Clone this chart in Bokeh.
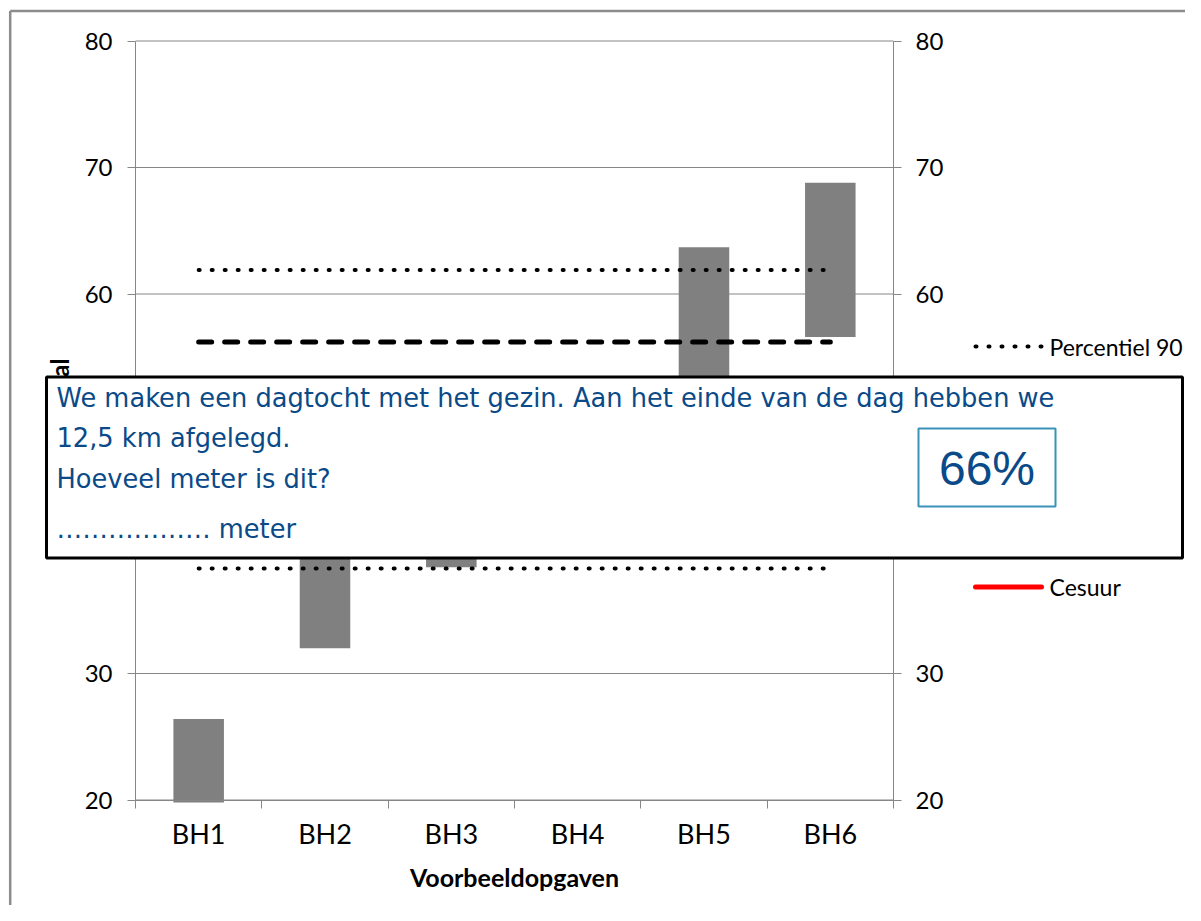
import numpy as np
from bokeh.plotting import figure
from bokeh.models import Range1d, LinearAxis, FixedTicker
from bokeh.core.properties import value
from bokeh.embed import file_html
from bokeh.resources import INLINE

# ---------------- data ----------------
categories = ["BH1", "BH2", "BH3", "BH4", "BH5", "BH6"]
cat_pos = [1, 2, 3, 4, 5, 6]
bar_bottom = [19.8, 32.0, 38.4, 41.0, 50.5, 56.6]
bar_top = [26.4, 45.5, 49.0, 52.5, 63.7, 68.8]

p90 = [61.9, 61.9, 61.9, 61.9, 61.9, 61.9]
p75 = [56.2, 56.2, 56.2, 56.2, 56.2, 56.2]
median = [49.5, 49.5, 49.5, 49.5, 49.5, 49.5]
p25 = [44.0, 44.0, 44.0, 44.0, 44.0, 44.0]
p10 = [38.3, 38.3, 38.3, 38.3, 38.3, 38.3]
cesuur = [46.0, 46.0, 46.0, 46.0, 46.0, 46.0]

y_ticks = [20, 30, 40, 50, 60, 70, 80]
legend_labels = ["Percentiel 90", "Percentiel 75", "Mediaan",
                 "Percentiel 25", "Percentiel 10", "Cesuur"]
x_title = "Voorbeeldopgaven"
y_title = "Score totaal"
question_lines = ["We maken een dagtocht met het gezin. Aan het einde van de dag hebben we",
                  "12,5 km afgelegd.",
                  "Hoeveel meter is dit?"]
answer_line = "……………… meter"
p_value_text = "66%"

# ---------------- layout helpers (picture pixels -> data) ----------------
W, H = 1185, 905


def X(px):
    return 0.5 + (px - 135.0) / 126.33


def Y(py):
    return 80.0 - (py - 40.5) / 12.65


GRAY = "#868686"
BAR = "#808080"
BLUE = "#0B4A88"

p = figure(width=W, height=H,
           x_range=Range1d(X(0), X(W)),
           y_range=Range1d(Y(H), Y(0)),
           x_axis_type=None, y_axis_type=None,
           toolbar_location=None, output_backend="svg",
           min_border=0, outline_line_color=None,
           background_fill_color="white", border_fill_color="white")

# outer chart-area frame (cut at right/bottom like the reference)
p.segment(x0=[X(9.7), X(9.7)], y0=[Y(930), Y(10.5)],
          x1=[X(9.7), X(1210)], y1=[Y(10.5), Y(10.5)],
          line_color="#8c8c8c", line_width=2.5)

# gridlines
cat_edges = [c - 0.5 for c in cat_pos] + [cat_pos[-1] + 0.5]
p.segment(x0=cat_edges[0], x1=cat_edges[-1], y0=y_ticks, y1=y_ticks,
          line_color=GRAY, line_width=1)

# axes
axis_style = dict(axis_line_color=GRAY, major_tick_line_color=GRAY,
                  major_tick_in=0, major_tick_out=8,
                  minor_tick_line_color=None,
                  major_label_text_font="Lato",
                  major_label_text_font_size="24px",
                  major_label_text_color="black")
left_ax = LinearAxis(fixed_location=cat_edges[0], bounds=(20, 80),
                     ticker=FixedTicker(ticks=y_ticks),
                     major_label_standoff=15, **axis_style)
p.add_layout(left_ax, "left")
right_ax = LinearAxis(fixed_location=cat_edges[-1], bounds=(20, 80),
                      ticker=FixedTicker(ticks=y_ticks),
                      major_label_standoff=14, **axis_style)
p.add_layout(right_ax, "right")

bottom_ax = LinearAxis(fixed_location=20, bounds=(cat_edges[0], cat_edges[-1]),
                       ticker=FixedTicker(ticks=cat_pos, minor_ticks=cat_edges),
                       major_label_overrides={c: lab for c, lab in zip(cat_pos, categories)},
                       axis_line_color=GRAY,
                       major_tick_in=0, major_tick_out=0, major_tick_line_color=None,
                       minor_tick_in=0, minor_tick_out=8, minor_tick_line_color=GRAY,
                       major_label_text_font="Lato", major_label_text_font_size="27px",
                       major_label_text_color="black", major_label_standoff=9,
                       axis_label=x_title, axis_label_text_font="Lato",
                       axis_label_text_font_size="25px", axis_label_text_font_style="bold",
                       axis_label_text_color="black", axis_label_standoff=8)
p.add_layout(bottom_ax, "below")

# y-axis title (mostly hidden behind the question box)
p.text(x=[X(58.5)], y=[Y(358)], text=[y_title], angle=np.pi / 2,
       text_align="right", text_baseline="middle",
       text_font=value("Lato"), text_font_style="bold",
       text_font_size="24px", text_color="black")

# floating bars
p.vbar(x=cat_pos, bottom=bar_bottom, top=bar_top, width=0.4,
       fill_color=BAR, line_color=None)

# percentile lines
styles = [
    dict(line_color="black", line_width=4, line_dash="1 12", line_cap="round"),
    dict(line_color="black", line_width=5, line_dash="13 13", line_cap="round"),
    dict(line_color="black", line_width=3),
    dict(line_color="black", line_width=5, line_dash="13 13", line_cap="round"),
    dict(line_color="black", line_width=4, line_dash="1 12", line_cap="round"),
    dict(line_color="#FF0000", line_width=5, line_cap="round"),
]
for series, st in zip([p90, p75, median, p25, p10, cesuur], styles):
    p.line(cat_pos, series, **st)

# legend (drawn as glyphs so the question box can cover it)
row_y = [346 + 48.1 * k for k in range(len(legend_labels))]
for ry, st in zip(row_y, styles):
    p.line([X(975), X(1041)], [Y(ry), Y(ry)], **st)
p.text(x=[X(1049)] * len(legend_labels), y=[Y(ry) for ry in row_y], text=legend_labels,
       text_align="left", text_baseline="middle",
       text_font=value("Lato"), text_font_size="23px", text_color="black")

# question box overlay
p.quad(left=[X(46)], right=[X(1182)], top=[Y(376.5)], bottom=[Y(557.5)],
       fill_color="white", line_color="black", line_width=3, level="overlay")
p.quad(left=[X(918)], right=[X(1055)], top=[Y(428)], bottom=[Y(506)],
       fill_color="white", line_color="#3A92BA", line_width=2, level="overlay")
p.text(x=[X(56), X(56), X(56)], y=[Y(397), Y(437.5), Y(478)], text=question_lines,
       text_align="left", text_baseline="middle",
       text_font=value("DejaVu Sans"), text_font_size="25.7px",
       text_color=BLUE, level="overlay")
p.text(x=[X(56)], y=[Y(528)], text=[answer_line],
       text_align="left", text_baseline="middle",
       text_font=value("DejaVu Sans"), text_font_size="25.7px",
       text_color=BLUE, level="overlay")
p.text(x=[X(986.5)], y=[Y(467.5)], text=[p_value_text],
       text_align="center", text_baseline="middle",
       text_font=value("Liberation Sans"), text_font_size="48px",
       text_color=BLUE, level="overlay")

open("out.html", "w").write(file_html(p, INLINE))
